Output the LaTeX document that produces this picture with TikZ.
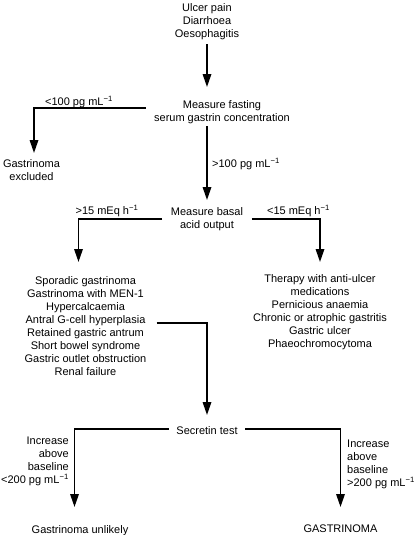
\documentclass[tikz,border=0pt]{standalone}
\usepackage{fontspec}
\setmainfont{Liberation Sans}
\usetikzlibrary{arrows.meta}
\tikzset{
  txt/.style={inner sep=0pt, font=\fontsize{11}{13}\selectfont, align=center},
  arr/.style={line width=1.7pt, -{Triangle[length=13pt,width=8.5pt]}},
  ln/.style={line width=1.7pt}
}
\newcommand{\inv}{\textsuperscript{−1}}
\begin{document}
\begin{tikzpicture}[x=1pt,y=-1pt]
\fill[white] (0,0) rectangle (416,535);
\useasboundingbox (0,0) rectangle (416,535);

% nodes
\node[txt, anchor=north] (sym) at (207,3) {Ulcer pain\\Diarrhoea\\Oesophagitis};
\node[txt, anchor=north, inner xsep=8pt] (fast) at (222,100) {Measure fasting\\serum gastrin concentration};
\node[txt, anchor=north] (gex) at (31.5,159) {Gastrinoma\\excluded};
\node[txt, anchor=north, inner xsep=8.5pt] (basal) at (207,207) {Measure basal\\acid output};
\node[txt, anchor=north, inner xsep=10pt] (llist) at (85.5,276) {Sporadic gastrinoma\\Gastrinoma with MEN-1\\Hypercalcaemia\\Antral G-cell hyperplasia\\Retained gastric antrum\\Short bowel syndrome\\Gastric outlet obstruction\\Renal failure};
\node[txt, anchor=north] (rlist) at (320,274) {Therapy with anti-ulcer\\medications\\Pernicious anaemia\\Chronic or atrophic gastritis\\Gastric ulcer\\Phaeochromocytoma};
\node[txt, anchor=north, inner xsep=7.5pt] (sec) at (207,426) {Secretin test};
\node[txt, anchor=north] (unl) at (80,525) {Gastrinoma unlikely};
\node[txt, anchor=north] (gas) at (340.5,525) {GASTRINOMA};

% labels
\node[txt, anchor=base] (l100) at (79,105) {<100 pg mL\inv};
\node[txt, anchor=base west] (g100) at (212,167) {>100 pg mL\inv};
\node[txt, anchor=base] (g15) at (107,214) {>15 mEq h\inv};
\node[txt, anchor=base] (l15) at (298.5,214) {<15 mEq h\inv};
\node[txt, anchor=north east, align=right] (l200) at (69,437) {Increase\\above\\baseline\\<200 pg mL\inv};
\node[txt, anchor=north west, align=left] (g200) at (347,440) {Increase\\above\\baseline\\>200 pg mL\inv};

% connectors
\draw[arr, shorten <=4.5pt, shorten >=13pt] (sym.south) -- (sym.south |- fast.north);
\draw[arr, shorten >=6pt] ([yshift=3.5pt]fast.west) -| ([xshift=2.5pt]gex.north);
\draw[arr, shorten <=2.5pt, shorten >=7pt] (sym.south |- fast.south) -- (sym.south |- basal.north);
\draw[arr, shorten >=14pt] (basal.west) -| ([xshift=-7pt]llist.north);
\draw[arr, shorten >=12pt] (basal.east) -| (rlist.north);
\draw[arr, shorten >=11pt] ([yshift=2.5pt]llist.east) -| (sec.north);
\draw[arr, shorten >=18pt] ([yshift=1.5pt]sec.west) -| ([xshift=-5.5pt]unl.north);
\draw[arr, shorten >=18pt] ([yshift=1.5pt]sec.east) -| (gas.north);
\end{tikzpicture}
\end{document}
